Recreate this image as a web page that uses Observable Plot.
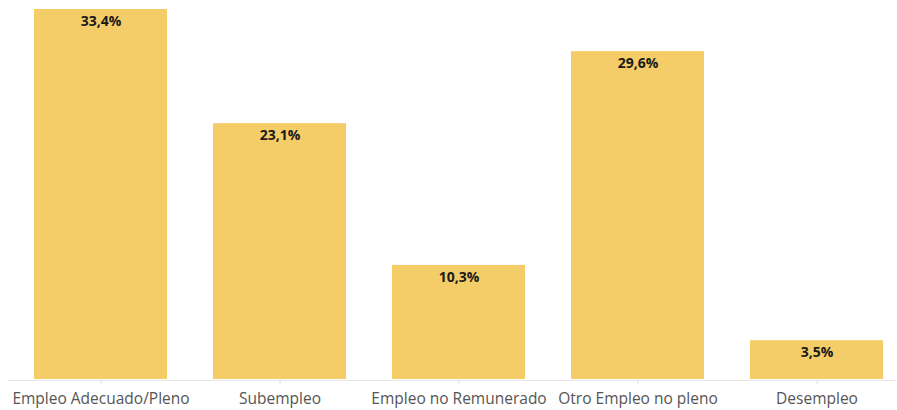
<!DOCTYPE html>
<html>
<head>
<meta charset="utf-8">
<script src="https://cdn.jsdelivr.net/npm/d3@7"></script>
<script src="https://cdn.jsdelivr.net/npm/@observablehq/plot@0.6"></script>
<style>
  body { margin: 0; background: #fff; }
</style>
</head>
<body>
<div id="chart"></div>
<script>
const categories = ["Empleo Adecuado/Pleno", "Subempleo", "Empleo no Remunerado", "Otro Empleo no pleno", "Desempleo"];
const values = [33.4, 23.1, 10.3, 29.6, 3.5];
const labels = ["33,4%", "23,1%", "10,3%", "29,6%", "3,5%"];

const data = categories.map((c, i) => ({cat: c, value: values[i], label: labels[i]}));

const chart = Plot.plot({
  width: 897,
  height: 410,
  marginTop: 9,
  marginBottom: 31,
  marginLeft: 32,
  marginRight: 12,
  style: {fontFamily: "'Open Sans', sans-serif", background: "#fff"},
  x: {domain: categories, paddingInner: 0.255, paddingOuter: 0, label: null},
  y: {domain: [0, 33.4], axis: null},
  marks: [
    Plot.barY(data, {x: "cat", y: "value", fill: "#F5CD68"}),
    Plot.ruleY([0], {stroke: "#e6e6e6", insetLeft: -24, insetRight: -10, dy: 1}),
    Plot.axisX({tickSize: 4, tickPadding: 8, stroke: "#e0e0e0", fill: "#555", fontSize: 15.5, tickFormat: d => d, dy: 1}),
    Plot.text(data, {x: "cat", y: "value", text: "label", dy: 12, fontWeight: "bold", fontSize: 14, fill: "#1a1a1a"})
  ]
});
document.getElementById("chart").appendChild(chart);
</script>
</body>
</html>
